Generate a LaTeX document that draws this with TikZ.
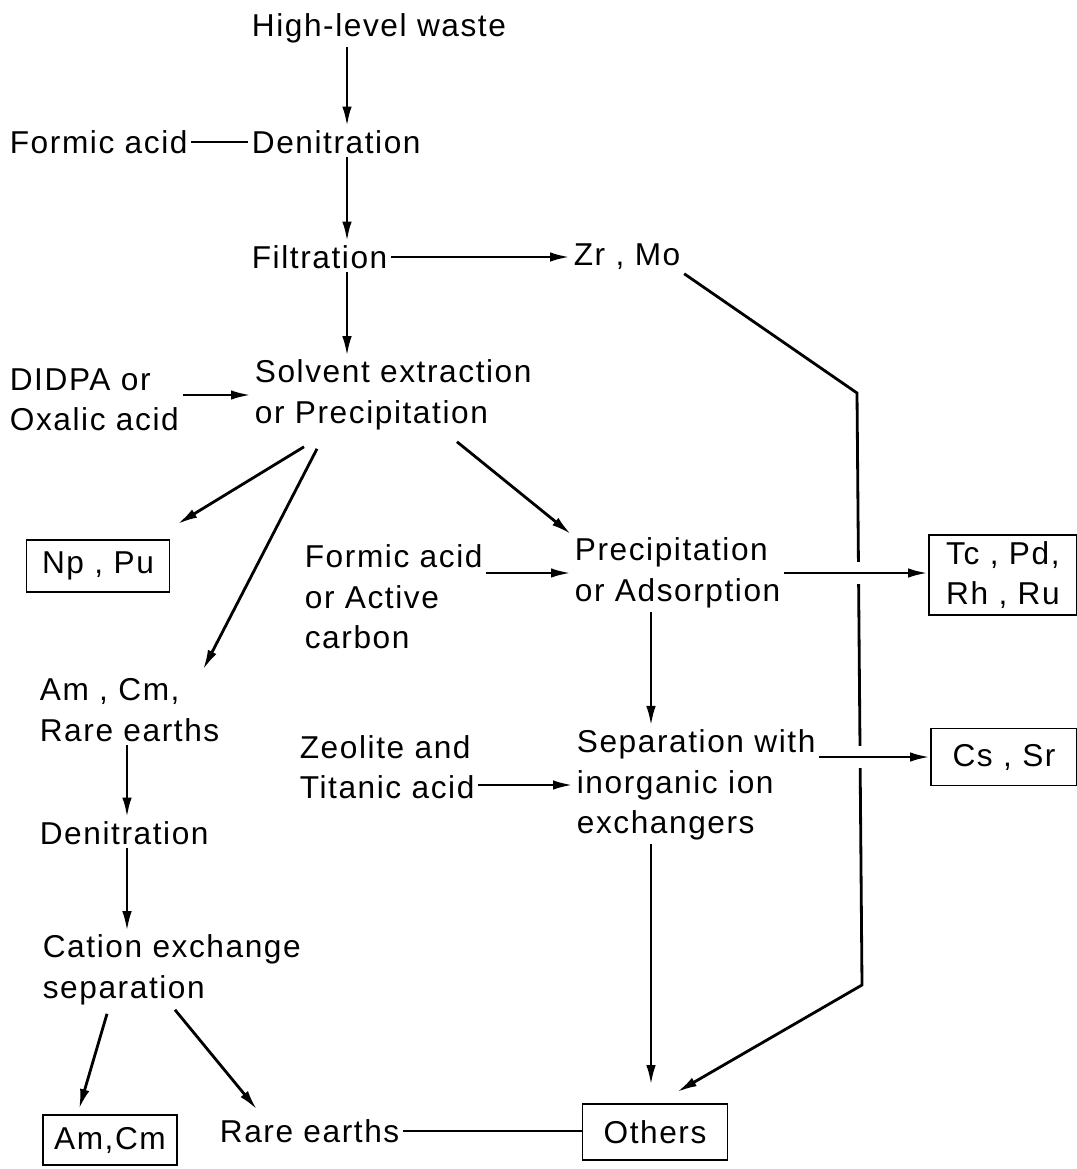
\documentclass[tikz,border=0pt]{standalone}
\usepackage{fontspec}
\setmainfont{Liberation Sans}[LetterSpace=5]
\usepackage{tikz}
\usetikzlibrary{positioning, arrows.meta, calc}
\tikzset{
    flowtext/.style={anchor=west, align=left, inner sep=2pt, font=\fontsize{18}{23}\selectfont},
    flowbox/.style={draw, line width=1.1pt, align=left, inner sep=2pt, font=\fontsize{18}{23}\selectfont},
    flow/.style={-{Latex[length=0.4cm,width=0.19cm]}, line width=1.6pt},
    link/.style={line width=1.6pt},
    bridge/.style={flow, preaction={draw=white, line width=12pt, -}}
}

\begin{document}
\begin{tikzpicture}[x=0.02cm, y=-0.02cm]
    \useasboundingbox (0,0) rectangle (1076,1169);
    \coordinate (spine) at (347,0);
    \coordinate (midcol) at (651,0);
    \coordinate (leftcol) at (127,0);

    % main column
    \node[flowtext] (hlw) at (248,28) {High-level waste};
    \node[flowtext] (fa1) at (6,142) {Formic acid};
    \node[flowtext] (den1) at (248,142) {Denitration};
    \node[flowtext] (filt) at (248,257) {Filtration};
    \node[flowtext] (zrmo) at (570,257) {Zr , Mo};
    \node[flowtext] (didpa) at (6,400) {DIDPA or\\Oxalic acid};
    \node[flowtext] (solv) at (251,395) {Solvent extraction\\or Precipitation};

    % middle and right
    \node[flowbox, minimum width=2.86cm, minimum height=1.04cm] (nppu) at (98,566) {Np , Pu};
    \node[flowtext] (fa2) at (301,597) {Formic acid\\or Active\\carbon};
    \node[flowtext] (prec) at (571,573) {Precipitation\\or Adsorption};
    \node[flowbox, minimum width=2.96cm, minimum height=1.6cm] (tcpd) at (1003,575) {Tc , Pd,\\Rh , Ru};
    \node[flowtext] (zeo) at (296,767) {Zeolite and\\Titanic acid};
    \node[flowtext] (sep) at (573,785) {Separation with\\inorganic ion\\exchangers};
    \node[flowbox, minimum width=2.92cm, minimum height=1.14cm] (cssr) at (1004,757) {Cs , Sr};

    % left column
    \node[flowtext] (amcm1) at (36,710) {Am , Cm,\\Rare earths};
    \node[flowtext] (den2) at (36,833) {Denitration};
    \node[flowtext] (cat) at (39,970) {Cation exchange\\separation};
    \node[flowbox, minimum width=2.68cm, minimum height=1cm] (amcm2) at (110,1140) {Am,Cm};
    \node[flowtext] (rare) at (216,1131) {Rare earths};
    \node[flowbox, minimum width=2.9cm, minimum height=1.12cm] (others) at (655,1132) {Others};

    \coordinate (zbend1) at (857,393);
    \coordinate (zbend2) at (862,985);

    \draw[flow] (hlw.south -| spine) -- (den1.north -| spine);
    \draw[link] (fa1.east) -- (den1.west);
    \draw[flow] (den1.south -| spine) -- (filt.north -| spine);
    \draw[flow] (filt.east) -- (zrmo.west);
    \draw[flow] (filt.south -| spine) -- (solv.north -| spine);
    \draw[flow] (didpa.east |- solv.west) -- (solv.west);

    \draw[flow] ($(solv.south west)+(53,13)$) -- ($(nppu.north east)+(7,-15)$);
    \draw[flow] ($(solv.south west)+(66,15)$) -- ($(amcm1.north west)+(167,-5)$);
    \draw[flow] ($(solv.south west)+(206,8)$) -- (prec.north west);

    \draw[flow] (fa2.east |- prec.west) -- (prec.west);
    \draw[flow] (prec.south -| midcol) -- (sep.north -| midcol);
    \draw[flow] (zeo.east |- sep.west) -- (sep.west);
    \draw[flow, shorten >=0.36cm] (sep.south -| midcol) -- (others.north -| midcol);

    % Zr, Mo to others
    \draw[flow] (zrmo.south east) -- (zbend1) -- (zbend2) -- ($(others.north)+(22,-11)$);
    \draw[bridge] (prec.east) -- (tcpd.west |- prec.east);
    \draw[bridge] (sep.east |- cssr.west) -- (cssr.west);

    \draw[flow] (amcm1.south -| leftcol) -- (den2.north -| leftcol);
    \draw[flow] (den2.south -| leftcol) -- (cat.north -| leftcol);
    \draw[flow] ($(cat.south west)+(68,5)$) -- ($(amcm2.north west)+(37,-5)$);
    \draw[flow] ($(cat.south west)+(136,1)$) -- ($(rare.north west)+(41,-6)$);
    \draw[link] (rare.east) -- (others.west |- rare.east);
\end{tikzpicture}
\end{document}
